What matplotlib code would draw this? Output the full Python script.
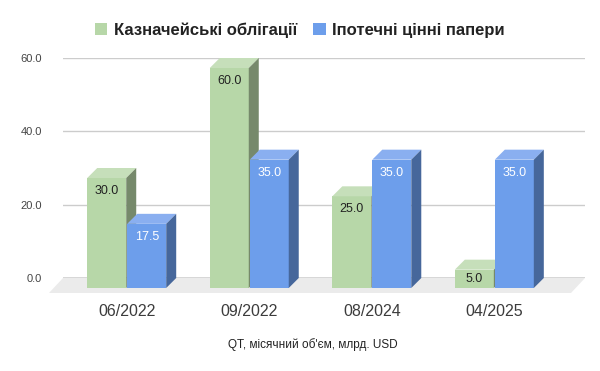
import matplotlib
matplotlib.use('Agg')
import matplotlib.pyplot as plt
from matplotlib.patches import Polygon, Patch

plt.rcParams['font.family'] = ['Liberation Sans', 'DejaVu Sans']

# data
categories = ['06/2022', '09/2022', '08/2024', '04/2025']
treasuries = [30.0, 60.0, 25.0, 5.0]
mbs = [17.5, 35.0, 35.0, 35.0]
series_names = ['Казначейські облігації', 'Іпотечні цінні папери']
x_title = "QT, місячний об'єм, млрд. USD"

# colours: front, top, side
green = ('#b7d7a8', '#c6dfba', '#76896b')
blue = ('#6d9eeb', '#8aaff0', '#46679b')

W, H = 600, 371
fig = plt.figure(figsize=(W / 100, H / 100), dpi=100)
ax_l, ax_r, ax_t, ax_b = 63, 585, 58, 278
ax = fig.add_axes([ax_l / W, 1 - ax_b / H, (ax_r - ax_l) / W, (ax_b - ax_t) / H])

xlim = (-0.52, 3.74)
ylim = (0, 60)
ax.set_xlim(*xlim)
ax.set_ylim(*ylim)

# pixel -> data conversions
px_x = (ax_r - ax_l) / (xlim[1] - xlim[0])
px_y = (ax_b - ax_t) / (ylim[1] - ylim[0])
dx = 10 / px_x   # bar depth
dy = 10 / px_y
bw = 39 / px_x   # bar width

# floor
fdx, fdy = 14 / px_x, 15 / px_y
floor = Polygon([(xlim[0], 0), (xlim[1], 0), (xlim[1] - fdx, -fdy), (xlim[0] - fdx, -fdy)],
                closed=True, facecolor='#ebebeb', edgecolor='none', clip_on=False, zorder=1)
ax.add_patch(floor)

# grid
for v in [20, 40, 60]:
    ax.axhline(v, color='#cccccc', lw=1, zorder=0.5)
ax.axhline(0, color='#333333', lw=1, zorder=1.5)


def bar3d(x0, v, cols, txtcol):
    # x0: left edge of front face (data), v: value (back-top height)
    front, top, side = cols
    x1 = x0 + bw
    ax.add_patch(Polygon([(x0, -dy), (x1, -dy), (x1, v - dy), (x0, v - dy)],
                         facecolor=front, edgecolor='none', clip_on=False, zorder=3))
    ax.add_patch(Polygon([(x0, v - dy), (x1, v - dy), (x1 + dx, v), (x0 + dx, v)],
                         facecolor=top, edgecolor='none', clip_on=False, zorder=3))
    ax.add_patch(Polygon([(x1, -dy), (x1 + dx, 0), (x1 + dx, v), (x1, v - dy)],
                         facecolor=side, edgecolor='none', clip_on=False, zorder=3))
    face_h = v * px_y
    off = min(13, face_h / 2) / px_y
    ax.text(x0 + bw / 2, v - dy - off, f'{v:.1f}', ha='center', va='center',
            fontsize=9, color=txtcol, zorder=4)


for i in range(len(categories)):
    bar3d(i - bw - 0.004, treasuries[i], green, '#222222')
    bar3d(i + 0.004, mbs[i], blue, '#ffffff')

# axes styling
for s in ax.spines.values():
    s.set_visible(False)
ax.set_yticks([0, 20, 40, 60])
ax.set_yticklabels([f'{v:.1f}' for v in [0, 20, 40, 60]])
ax.tick_params(axis='y', length=0, pad=15, labelsize=8, labelcolor='#444444')
ax.set_xticks(range(len(categories)))
ax.set_xticklabels(categories)
ax.tick_params(axis='x', length=0, pad=19, labelsize=11.5, labelcolor='#3c3c3c')

fig.text(313 / W, 1 - 345 / H, x_title, ha='center', va='center', fontsize=8.5, color='#222222')

handles = [Patch(facecolor=green[0], edgecolor='none'), Patch(facecolor=blue[0], edgecolor='none')]
fig.legend(handles, series_names, loc='center', bbox_to_anchor=(300 / W, 1 - 30 / H), ncol=2,
           frameon=False, prop={'weight': 'bold', 'size': 12}, labelcolor='#222222',
           handlelength=0.75, handleheight=0.75, handletextpad=0.4, columnspacing=0.95)

fig.savefig('out.png', dpi=100)
